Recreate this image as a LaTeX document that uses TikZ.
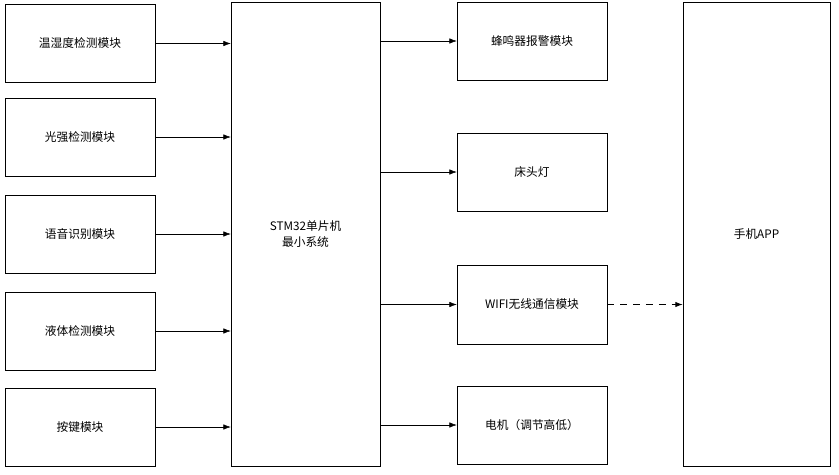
\documentclass[tikz,border=0pt]{standalone}
\usepackage{fontspec}
\setmainfont{Noto Sans CJK SC}
\usetikzlibrary{arrows.meta}
\tikzset{
  blk/.style = {draw, thin, font=\fontsize{10}{13}\selectfont, align=center, inner sep=0pt},
  arr/.style = {-{Latex[length=2.2mm,width=1.6mm]}, thin},
}
\begin{document}
\begin{tikzpicture}[x=0.03cm, y=-0.03cm]
    \useasboundingbox (0,0) rectangle (839,474);

    % left column
    \node[blk, minimum width=4.5cm, minimum height=2.34cm] (temp) at (80,43.5) {温湿度检测模块};
    \node[blk, minimum width=4.5cm, minimum height=2.34cm] (light) at (80,137) {光强检测模块};
    \node[blk, minimum width=4.5cm, minimum height=2.34cm] (voice) at (80,234) {语音识别模块};
    \node[blk, minimum width=4.5cm, minimum height=2.34cm] (liquid) at (80,331) {液体检测模块};
    \node[blk, minimum width=4.5cm, minimum height=2.34cm] (key) at (80,427) {按键模块};

    % controller
    \node[blk, minimum width=4.47cm, minimum height=13.92cm] (mcu) at (305.5,234) {STM32单片机\\最小系统};

    % right column
    \node[blk, minimum width=4.5cm, minimum height=2.34cm] (buzz) at (532,41) {蜂鸣器报警模块};
    \node[blk, minimum width=4.5cm, minimum height=2.34cm] (lamp) at (532,172) {床头灯};
    \node[blk, minimum width=4.5cm, minimum height=2.37cm] (wifi) at (532,304.5) {WIFI无线通信模块};
    \node[blk, minimum width=4.5cm, minimum height=2.34cm] (motor) at (532,425) {电机（调节高低）};

    % phone
    \node[blk, minimum width=4.41cm, minimum height=13.92cm] (app) at (756.5,234) {手机APP};

    \foreach \n in {temp,light,voice,liquid,key}
        \draw[arr] (\n.east) -- (\n.east -| mcu.west);
    \foreach \n in {buzz,lamp,wifi,motor}
        \draw[arr] (\n.west -| mcu.east) -- (\n.west);
    \draw[arr, dashed, thick, dash pattern=on 6pt off 5pt] (wifi.east) -- (wifi.east -| app.west);

\end{tikzpicture}
\end{document}
